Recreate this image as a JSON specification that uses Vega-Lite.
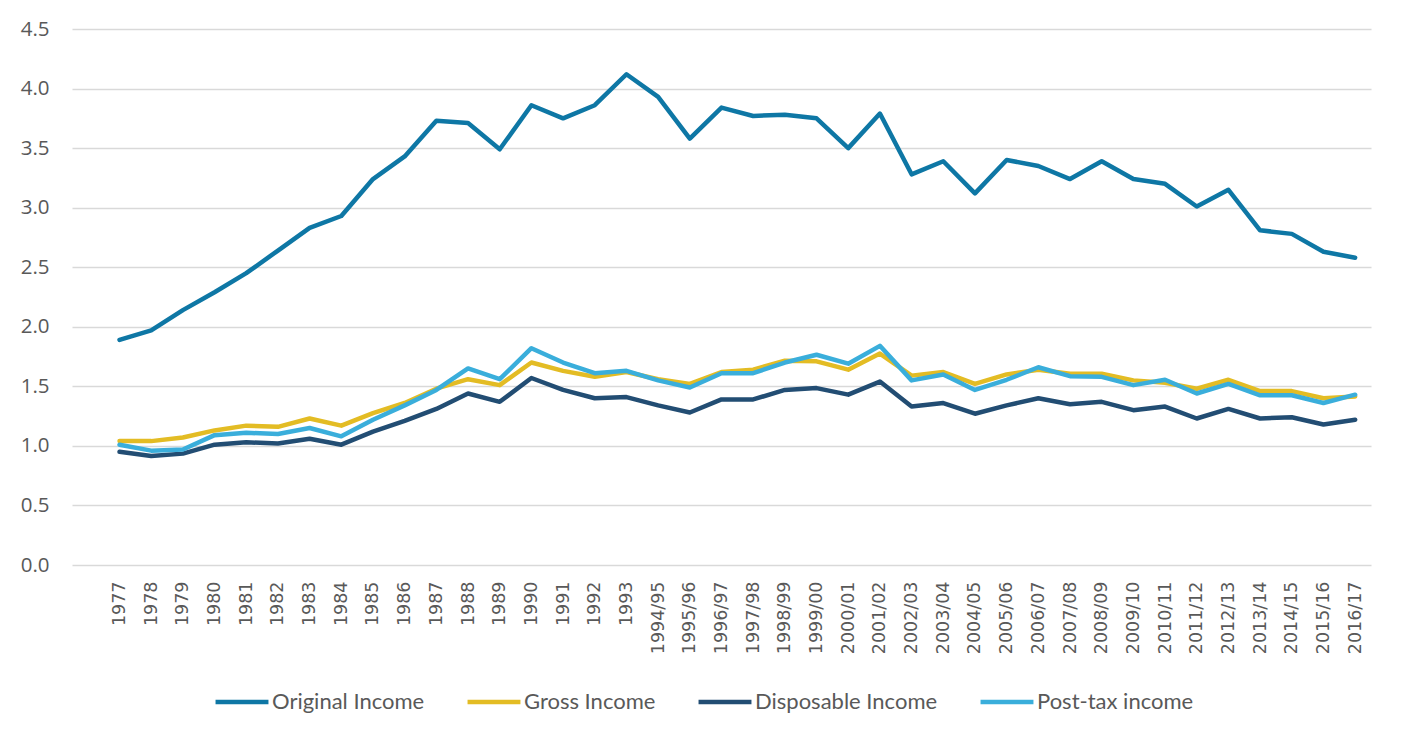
{
  "$schema": "https://vega.github.io/schema/vega-lite/v6.json",
  "autosize": {"type": "none"},
  "width": 1299,
  "height": 536,
  "padding": {"left": 72, "top": 29, "right": 30, "bottom": 175},
  "background": "white",
  "data": {
    "values": [
      {"year": "1977", "Original Income": 1.89, "Gross Income": 1.04, "Disposable Income": 0.95, "Post-tax income": 1.01},
      {"year": "1978", "Original Income": 1.97, "Gross Income": 1.04, "Disposable Income": 0.915, "Post-tax income": 0.96},
      {"year": "1979", "Original Income": 2.14, "Gross Income": 1.07, "Disposable Income": 0.935, "Post-tax income": 0.97},
      {"year": "1980", "Original Income": 2.29, "Gross Income": 1.13, "Disposable Income": 1.01, "Post-tax income": 1.09},
      {"year": "1981", "Original Income": 2.45, "Gross Income": 1.17, "Disposable Income": 1.03, "Post-tax income": 1.11},
      {"year": "1982", "Original Income": 2.64, "Gross Income": 1.16, "Disposable Income": 1.02, "Post-tax income": 1.10},
      {"year": "1983", "Original Income": 2.83, "Gross Income": 1.23, "Disposable Income": 1.06, "Post-tax income": 1.15},
      {"year": "1984", "Original Income": 2.93, "Gross Income": 1.17, "Disposable Income": 1.01, "Post-tax income": 1.08},
      {"year": "1985", "Original Income": 3.24, "Gross Income": 1.275, "Disposable Income": 1.12, "Post-tax income": 1.22},
      {"year": "1986", "Original Income": 3.43, "Gross Income": 1.36, "Disposable Income": 1.21, "Post-tax income": 1.34},
      {"year": "1987", "Original Income": 3.73, "Gross Income": 1.48, "Disposable Income": 1.31, "Post-tax income": 1.47},
      {"year": "1988", "Original Income": 3.71, "Gross Income": 1.56, "Disposable Income": 1.44, "Post-tax income": 1.65},
      {"year": "1989", "Original Income": 3.49, "Gross Income": 1.51, "Disposable Income": 1.37, "Post-tax income": 1.56},
      {"year": "1990", "Original Income": 3.86, "Gross Income": 1.70, "Disposable Income": 1.57, "Post-tax income": 1.82},
      {"year": "1991", "Original Income": 3.75, "Gross Income": 1.63, "Disposable Income": 1.47, "Post-tax income": 1.70},
      {"year": "1992", "Original Income": 3.86, "Gross Income": 1.58, "Disposable Income": 1.40, "Post-tax income": 1.61},
      {"year": "1993", "Original Income": 4.12, "Gross Income": 1.62, "Disposable Income": 1.41, "Post-tax income": 1.63},
      {"year": "1994/95", "Original Income": 3.93, "Gross Income": 1.56, "Disposable Income": 1.34, "Post-tax income": 1.55},
      {"year": "1995/96", "Original Income": 3.58, "Gross Income": 1.52, "Disposable Income": 1.28, "Post-tax income": 1.49},
      {"year": "1996/97", "Original Income": 3.84, "Gross Income": 1.62, "Disposable Income": 1.39, "Post-tax income": 1.61},
      {"year": "1997/98", "Original Income": 3.77, "Gross Income": 1.64, "Disposable Income": 1.39, "Post-tax income": 1.61},
      {"year": "1998/99", "Original Income": 3.78, "Gross Income": 1.715, "Disposable Income": 1.47, "Post-tax income": 1.70},
      {"year": "1999/00", "Original Income": 3.75, "Gross Income": 1.71, "Disposable Income": 1.485, "Post-tax income": 1.765},
      {"year": "2000/01", "Original Income": 3.50, "Gross Income": 1.64, "Disposable Income": 1.43, "Post-tax income": 1.69},
      {"year": "2001/02", "Original Income": 3.79, "Gross Income": 1.775, "Disposable Income": 1.54, "Post-tax income": 1.84},
      {"year": "2002/03", "Original Income": 3.28, "Gross Income": 1.59, "Disposable Income": 1.33, "Post-tax income": 1.55},
      {"year": "2003/04", "Original Income": 3.39, "Gross Income": 1.62, "Disposable Income": 1.36, "Post-tax income": 1.60},
      {"year": "2004/05", "Original Income": 3.12, "Gross Income": 1.52, "Disposable Income": 1.27, "Post-tax income": 1.47},
      {"year": "2005/06", "Original Income": 3.40, "Gross Income": 1.60, "Disposable Income": 1.34, "Post-tax income": 1.555},
      {"year": "2006/07", "Original Income": 3.35, "Gross Income": 1.64, "Disposable Income": 1.40, "Post-tax income": 1.66},
      {"year": "2007/08", "Original Income": 3.24, "Gross Income": 1.605, "Disposable Income": 1.35, "Post-tax income": 1.585},
      {"year": "2008/09", "Original Income": 3.39, "Gross Income": 1.605, "Disposable Income": 1.37, "Post-tax income": 1.58},
      {"year": "2009/10", "Original Income": 3.24, "Gross Income": 1.55, "Disposable Income": 1.30, "Post-tax income": 1.51},
      {"year": "2010/11", "Original Income": 3.20, "Gross Income": 1.53, "Disposable Income": 1.33, "Post-tax income": 1.555},
      {"year": "2011/12", "Original Income": 3.01, "Gross Income": 1.48, "Disposable Income": 1.23, "Post-tax income": 1.44},
      {"year": "2012/13", "Original Income": 3.15, "Gross Income": 1.555, "Disposable Income": 1.31, "Post-tax income": 1.52},
      {"year": "2013/14", "Original Income": 2.81, "Gross Income": 1.46, "Disposable Income": 1.23, "Post-tax income": 1.425},
      {"year": "2014/15", "Original Income": 2.78, "Gross Income": 1.46, "Disposable Income": 1.24, "Post-tax income": 1.425},
      {"year": "2015/16", "Original Income": 2.63, "Gross Income": 1.40, "Disposable Income": 1.18, "Post-tax income": 1.36},
      {"year": "2016/17", "Original Income": 2.58, "Gross Income": 1.415, "Disposable Income": 1.22, "Post-tax income": 1.43}
    ]
  },
  "transform": [
    {"fold": ["Original Income", "Gross Income", "Disposable Income", "Post-tax income"], "as": ["series", "value"]}
  ],
  "mark": {"type": "line", "strokeWidth": 4.5, "strokeCap": "round", "strokeJoin": "round"},
  "encoding": {
    "x": {
      "field": "year",
      "type": "ordinal",
      "scale": {
        "domain": [" ", "1977", "1978", "1979", "1980", "1981", "1982", "1983", "1984", "1985", "1986", "1987", "1988", "1989", "1990", "1991", "1992", "1993", "1994/95", "1995/96", "1996/97", "1997/98", "1998/99", "1999/00", "2000/01", "2001/02", "2002/03", "2003/04", "2004/05", "2005/06", "2006/07", "2007/08", "2008/09", "2009/10", "2010/11", "2011/12", "2012/13", "2013/14", "2014/15", "2015/16", "2016/17"],
        "type": "point",
        "padding": 0.5
      },
      "axis": {
        "title": null,
        "labelAngle": -90,
        "labelAlign": "right",
        "labelBaseline": "middle",
        "labelFont": "DejaVu Sans",
        "labelFontSize": 17.5,
        "labelColor": "#595959",
        "labelPadding": 16,
        "ticks": false,
        "domain": false,
        "grid": false,
        "labelOverlap": false
      }
    },
    "y": {
      "field": "value",
      "type": "quantitative",
      "scale": {"domain": [0, 4.5], "nice": false, "zero": true},
      "axis": {
        "title": null,
        "values": [0, 0.5, 1, 1.5, 2, 2.5, 3, 3.5, 4, 4.5],
        "format": ".1f",
        "labelFont": "Open Sans",
        "labelFontSize": 20.5,
        "labelColor": "#595959",
        "labelPadding": 23,
        "ticks": false,
        "domain": false,
        "grid": true,
        "gridColor": "#D9D9D9",
        "gridWidth": 1.5
      }
    },
    "color": {
      "field": "series",
      "type": "nominal",
      "scale": {
        "domain": ["Original Income", "Gross Income", "Disposable Income", "Post-tax income"],
        "range": ["#0E77A5", "#E3BC24", "#224D73", "#3AAEDB"]
      },
      "legend": {
        "title": null,
        "orient": "none",
        "direction": "horizontal",
        "legendX": 141,
        "legendY": 644,
        "symbolType": "stroke",
        "symbolSize": 2800,
        "symbolStrokeWidth": 4.5,
        "labelFont": "Lato",
        "labelFontSize": 22,
        "labelColor": "#595959",
        "labelOffset": 1,
        "labelLimit": 400,
        "columnPadding": 33
      }
    }
  },
  "config": {
    "view": {"stroke": null}
  }
}
